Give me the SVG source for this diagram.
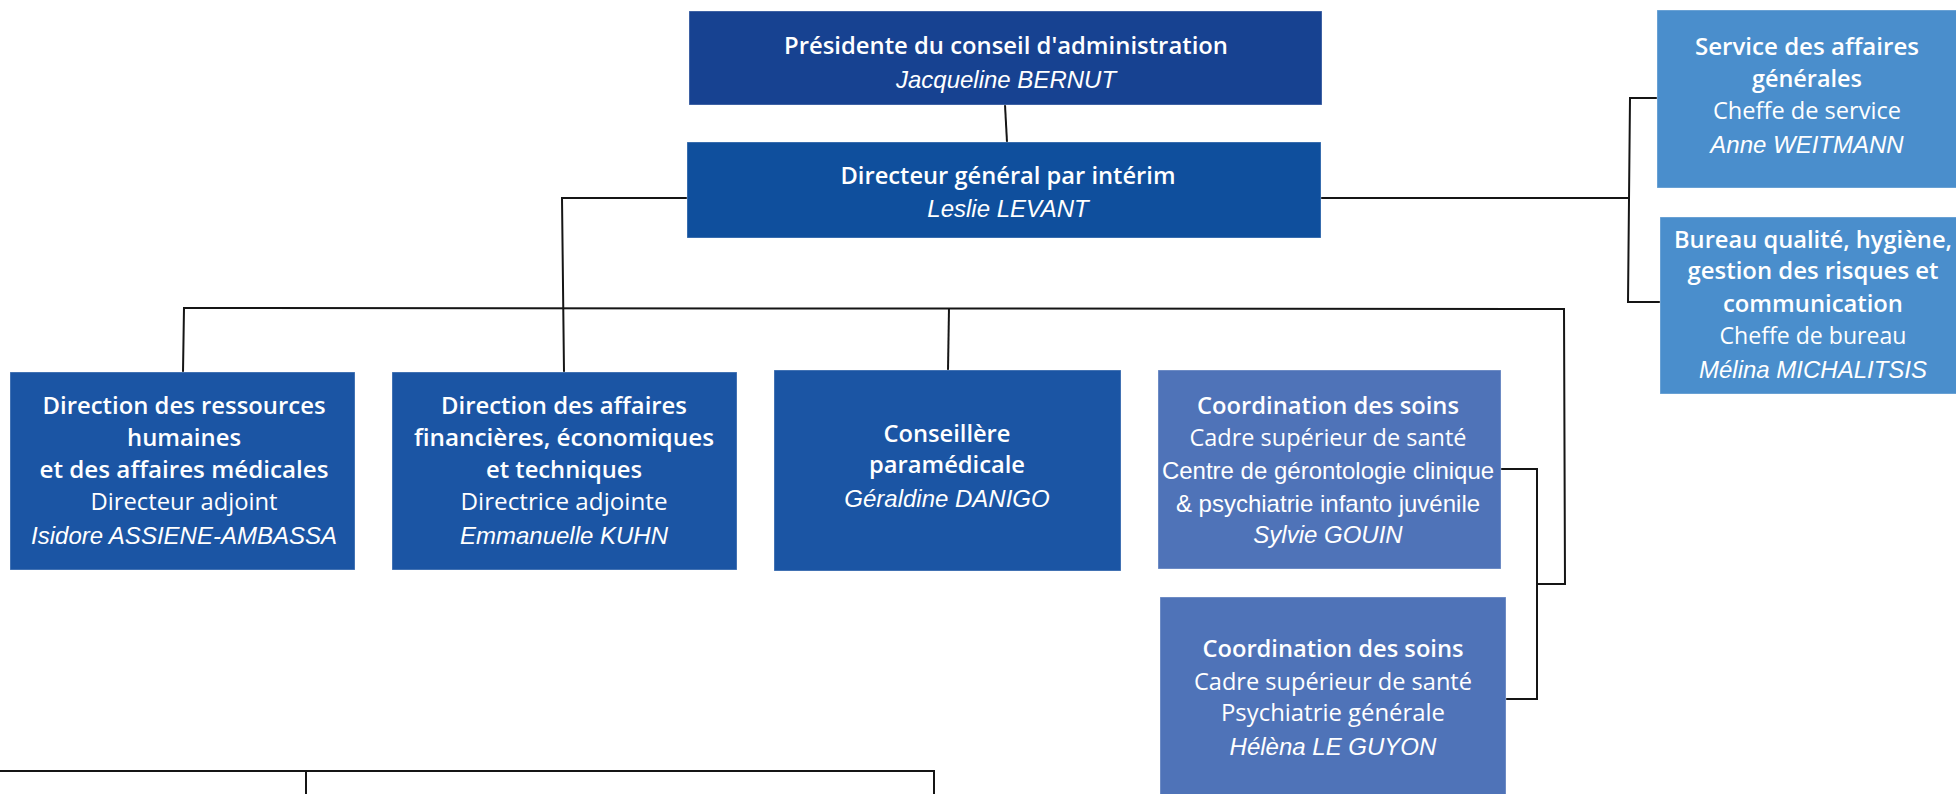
<svg xmlns="http://www.w3.org/2000/svg" width="1956" height="794" viewBox="0 0 1956 794">
<style>
.box{stroke:#ffffff;stroke-opacity:0.35;stroke-width:1}
.c1{fill:#174291}
.c2{fill:#0f4f9d}
.c3{fill:#1b55a4}
.c4{fill:#4f73b8}
.c5{fill:#4a8ecc}
.t{font-family:"Open Sans","Liberation Sans",sans-serif;font-size:23px;font-weight:600;fill:#ffffff;text-anchor:middle}
.r{font-family:"Open Sans","Liberation Sans",sans-serif;font-size:23px;font-weight:400;fill:#ffffff;text-anchor:middle}
.n{font-family:"Liberation Sans",Arial,sans-serif;font-size:24px;font-style:italic;fill:#ffffff;text-anchor:middle}
.a{font-family:"Liberation Sans",Arial,sans-serif;font-size:24px;fill:#ffffff;text-anchor:middle}
.ln{fill:none;stroke:#151515;stroke-width:2}
</style>
<g id="connectors">
<path class="ln" d="M1005,105 L1007,142"/>
<path class="ln" d="M687,198 L562,198 L564,372"/>
<path class="ln" d="M183,372 L184,308 L1564,309 L1565,584 L1537,584"/>
<path class="ln" d="M949,308 L948,370"/>
<path class="ln" d="M1501,469 L1537,469 L1537,699 L1506,699"/>
<path class="ln" d="M1321,198 L1629,198"/>
<path class="ln" d="M1657,98 L1630,98 L1628,302 L1660,302"/>
<path class="ln" d="M0,771 L934,771 L934,794"/>
<path class="ln" d="M306,771 L306,794"/>
</g>
<g id="presidente">
<rect class="box c1" x="689" y="11" width="633" height="94"/>
<text class="t" x="1006" y="54" textLength="444" lengthAdjust="spacingAndGlyphs">Présidente du conseil d'administration</text>
<text class="n" x="1006" y="88">Jacqueline BERNUT</text>
</g>
<g id="directeur-general">
<rect class="box c2" x="687" y="142" width="634" height="96"/>
<text class="t" x="1008" y="184" textLength="335" lengthAdjust="spacingAndGlyphs">Directeur général par intérim</text>
<text class="n" x="1008" y="217">Leslie LEVANT</text>
</g>
<g id="service-affaires-generales">
<rect class="box c5" x="1657" y="10" width="300" height="178"/>
<text class="t" x="1807" y="55" textLength="224" lengthAdjust="spacingAndGlyphs">Service des affaires</text>
<text class="t" x="1807" y="87" textLength="110" lengthAdjust="spacingAndGlyphs">générales</text>
<text class="r" x="1807" y="119" textLength="188" lengthAdjust="spacingAndGlyphs">Cheffe de service</text>
<text class="n" x="1807" y="153">Anne WEITMANN</text>
</g>
<g id="bureau-qualite">
<rect class="box c5" x="1660" y="217" width="306" height="177"/>
<text class="t" x="1813" y="248" textLength="278" lengthAdjust="spacingAndGlyphs">Bureau qualité, hygiène,</text>
<text class="t" x="1813" y="279" textLength="251" lengthAdjust="spacingAndGlyphs">gestion des risques et</text>
<text class="t" x="1813" y="312" textLength="180" lengthAdjust="spacingAndGlyphs">communication</text>
<text class="r" x="1813" y="344" textLength="187" lengthAdjust="spacingAndGlyphs">Cheffe de bureau</text>
<text class="n" x="1813" y="378">Mélina MICHALITSIS</text>
</g>
<g id="drh">
<rect class="box c3" x="10" y="372" width="345" height="198"/>
<text class="t" x="184" y="414" textLength="283" lengthAdjust="spacingAndGlyphs">Direction des ressources</text>
<text class="t" x="184" y="446" textLength="114" lengthAdjust="spacingAndGlyphs">humaines</text>
<text class="t" x="184" y="478" textLength="289" lengthAdjust="spacingAndGlyphs">et des affaires médicales</text>
<text class="r" x="184" y="510" textLength="187" lengthAdjust="spacingAndGlyphs">Directeur adjoint</text>
<text class="n" x="184" y="544">Isidore ASSIENE-AMBASSA</text>
</g>
<g id="dafet">
<rect class="box c3" x="392" y="372" width="345" height="198"/>
<text class="t" x="564" y="414" textLength="246" lengthAdjust="spacingAndGlyphs">Direction des affaires</text>
<text class="t" x="564" y="446" textLength="300" lengthAdjust="spacingAndGlyphs">financières, économiques</text>
<text class="t" x="564" y="478" textLength="156" lengthAdjust="spacingAndGlyphs">et techniques</text>
<text class="r" x="564" y="510" textLength="207" lengthAdjust="spacingAndGlyphs">Directrice adjointe</text>
<text class="n" x="564" y="544">Emmanuelle KUHN</text>
</g>
<g id="conseillere">
<rect class="box c3" x="774" y="370" width="347" height="201"/>
<text class="t" x="947" y="442" textLength="127" lengthAdjust="spacingAndGlyphs">Conseillère</text>
<text class="t" x="947" y="473" textLength="156" lengthAdjust="spacingAndGlyphs">paramédicale</text>
<text class="n" x="947" y="507">Géraldine DANIGO</text>
</g>
<g id="coordination-1">
<rect class="box c4" x="1158" y="370" width="343" height="199"/>
<text class="t" x="1328" y="414" textLength="262" lengthAdjust="spacingAndGlyphs">Coordination des soins</text>
<text class="r" x="1328" y="446" textLength="277" lengthAdjust="spacingAndGlyphs">Cadre supérieur de santé</text>
<text class="a" x="1328" y="479">Centre de gérontologie clinique</text>
<text class="a" x="1328" y="512">&amp; psychiatrie infanto juvénile</text>
<text class="n" x="1328" y="543">Sylvie GOUIN</text>
</g>
<g id="coordination-2">
<rect class="box c4" x="1160" y="597" width="346" height="205"/>
<text class="t" x="1333" y="657" textLength="261" lengthAdjust="spacingAndGlyphs">Coordination des soins</text>
<text class="r" x="1333" y="690" textLength="278" lengthAdjust="spacingAndGlyphs">Cadre supérieur de santé</text>
<text class="r" x="1333" y="721" textLength="224" lengthAdjust="spacingAndGlyphs">Psychiatrie générale</text>
<text class="n" x="1333" y="755">Hélèna LE GUYON</text>
</g>
</svg>
